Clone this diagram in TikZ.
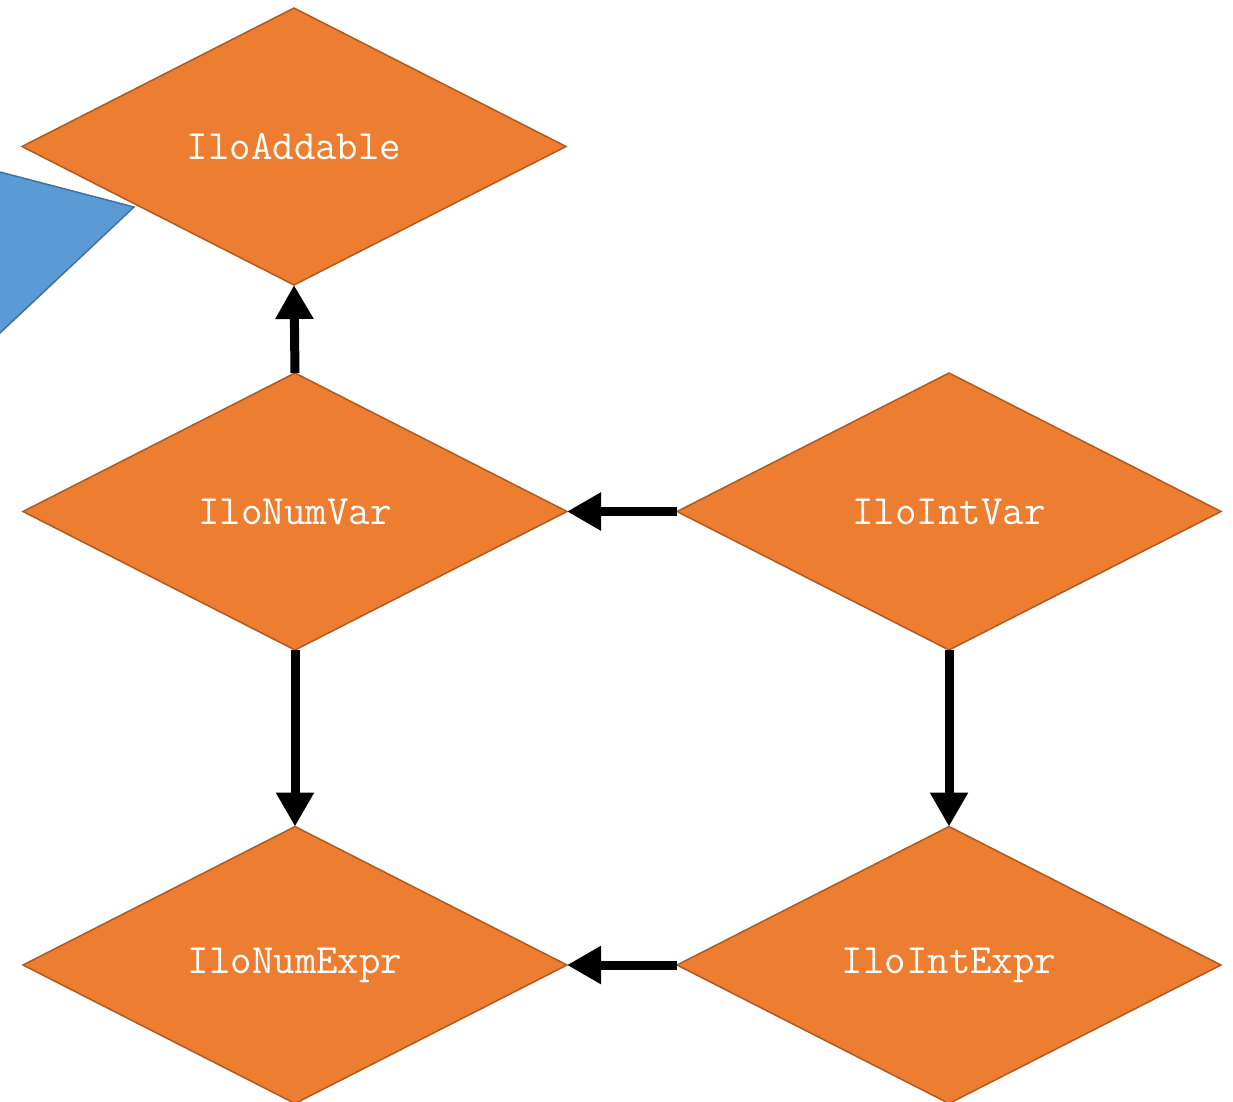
\documentclass[tikz,border=0pt]{standalone}
\usepackage{fontspec}
\usetikzlibrary{shapes.geometric,arrows.meta}
\definecolor{ifacefill}{HTML}{ED7D31}
\definecolor{ifaceline}{HTML}{AE5A21}
\definecolor{blobfill}{HTML}{5B9BD5}
\definecolor{blobline}{HTML}{41719C}
\tikzset{
	iface/.style={diamond, draw=ifaceline, fill=ifacefill, line width=1.5pt,
		minimum width=544pt, minimum height=277pt, inner sep=0pt, outer sep=0pt,
		text=white, font=\ttfamily\fontsize{41.7}{44}\selectfont},
	inherit/.style={line width=9pt, -{Triangle[length=34pt,width=36pt]}}
}
\begin{document}
\begin{tikzpicture}[x=1pt,y=-1pt]
		\useasboundingbox ( 0, 0 ) rectangle ( 1233, 1101 );
		\clip ( 0, 0 ) rectangle ( 1233, 1101 );
		% partial shape at the left edge
		\filldraw [fill=blobfill, draw=blobline, line width=1.5pt] ( -20, 166.8 ) -- ( 134, 207 ) -- ( -20, 351.8 ) -- cycle;
		\node [iface] (addable) at ( 294, 146.5 ) {IloAddable};
		\node [iface] (numvar) at ( 295, 511.5 ) {IloNumVar};
		\node [iface] (intvar) at ( 949, 511.5 ) {IloIntVar};
		\node [iface] (numexpr) at ( 295, 965 ) {IloNumExpr};
		\node [iface] (intexpr) at ( 949, 965 ) {IloIntExpr};
		\draw [inherit] (numvar.north) -- (addable.south);
		\draw [inherit] (intvar.west) -- (numvar.east);
		\draw [inherit] (numvar.south) -- (numexpr.north);
		\draw [inherit] (intvar.south) -- (intexpr.north);
		\draw [inherit] (intexpr.west) -- (numexpr.east);
	\end{tikzpicture}
\end{document}
